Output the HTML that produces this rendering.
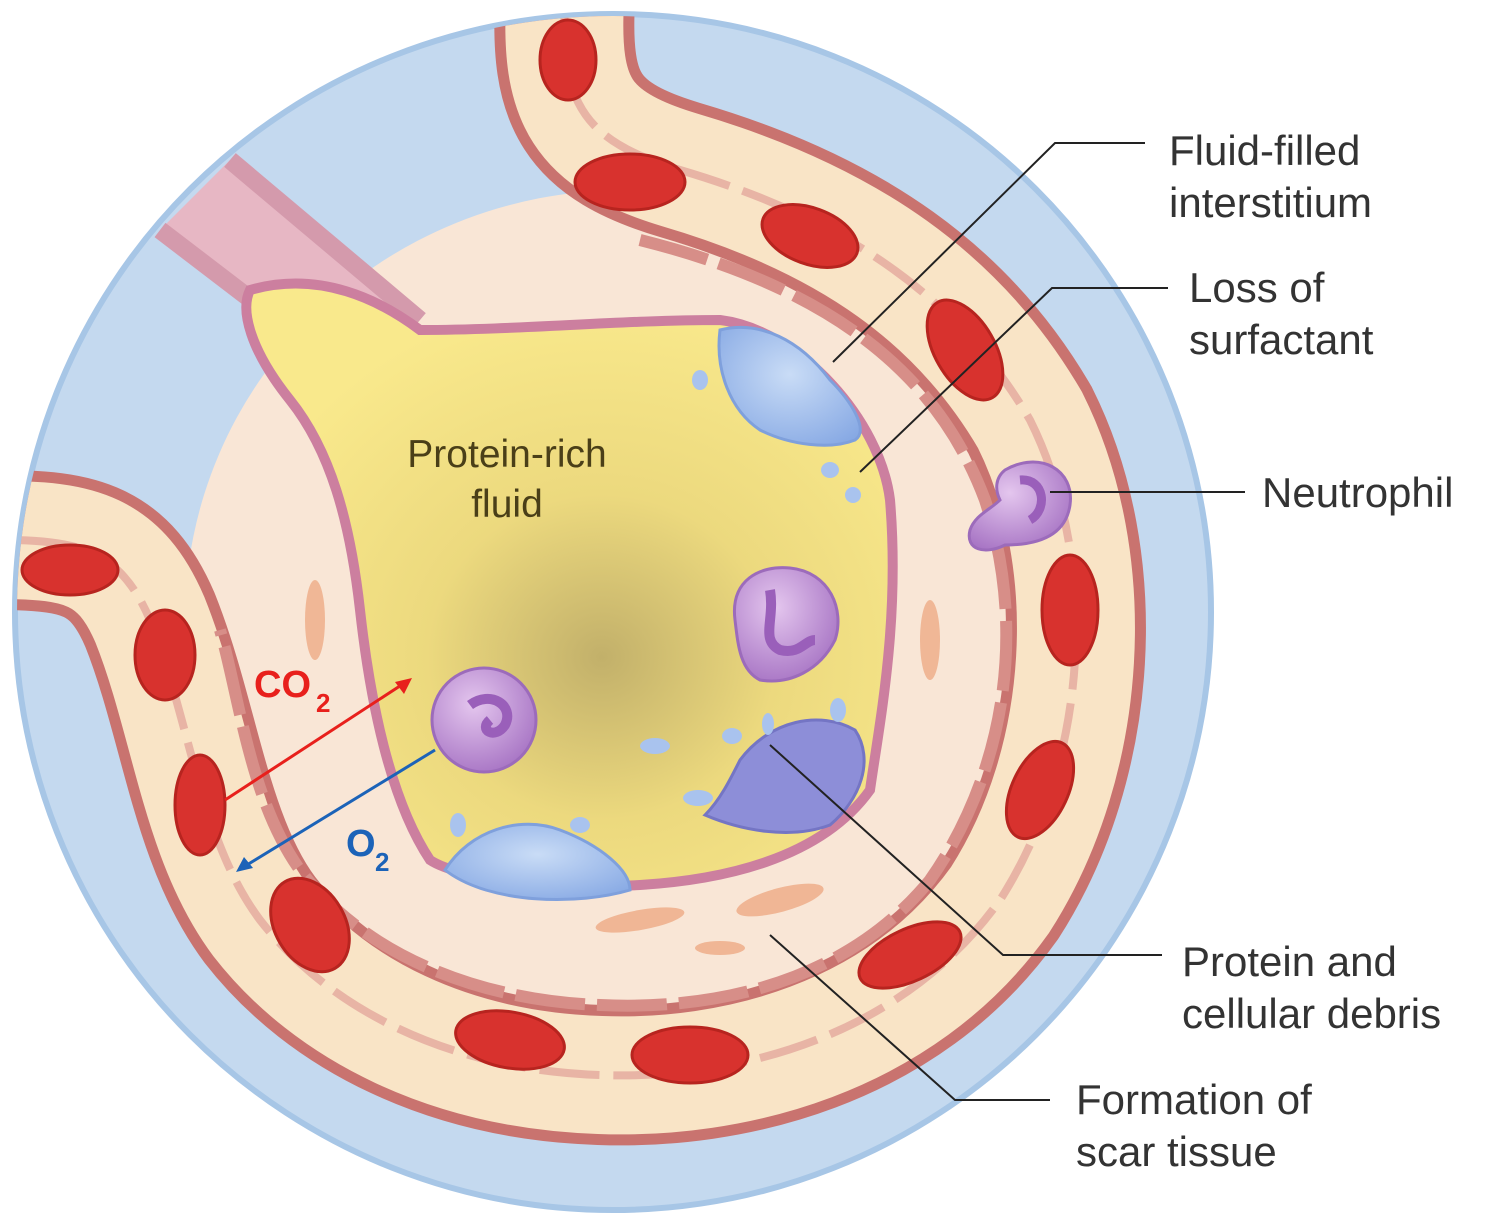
<!DOCTYPE html>
<html><head><meta charset="utf-8"><style>
html,body{margin:0;padding:0;background:#fff}
svg{display:block}
text{font-family:"Liberation Sans",sans-serif}
</style></head><body>
<svg width="1500" height="1223" viewBox="0 0 1500 1223" xmlns="http://www.w3.org/2000/svg">
<defs>
<radialGradient id="fl" cx="0.55" cy="0.62" r="0.6">
<stop offset="0" stop-color="#c2b06a"/><stop offset="0.45" stop-color="#ecd97e"/><stop offset="1" stop-color="#f9e98c"/>
</radialGradient>
<radialGradient id="pu" cx="0.4" cy="0.35" r="0.7">
<stop offset="0" stop-color="#e4c6ee"/><stop offset="1" stop-color="#a774c4"/>
</radialGradient>
<radialGradient id="bl" cx="0.5" cy="0.4" r="0.7">
<stop offset="0" stop-color="#c9dcf6"/><stop offset="1" stop-color="#87a9e4"/>
</radialGradient>
<clipPath id="cc"><circle cx="613" cy="612" r="596"/></clipPath>
</defs>
<circle cx="613" cy="612" r="598" fill="#c4d9ef" stroke="#a7c6e6" stroke-width="6"/>
<g clip-path="url(#cc)">
<ellipse cx="625" cy="620" rx="440" ry="430" fill="#f9e6d6"/>
<path d="M160 230 L230 160 L420 320 L330 360 Z" fill="#e7b7c4"/>
<path d="M160 230 L330 360" stroke="#d49aac" stroke-width="18" fill="none"/>
<path d="M230 160 L420 320" stroke="#d49aac" stroke-width="18" fill="none"/>
<g fill="none">
<path d="M565 0 C560 100 580 140 680 170 C850 220 960 300 1030 420 C1100 560 1090 760 1000 900 C900 1040 730 1080 600 1075 C450 1070 330 1010 260 920 C200 840 190 720 150 620 C120 550 80 540 0 540" stroke="#c9736f" stroke-width="140"/>
<path d="M565 0 C560 100 580 140 680 170 C850 220 960 300 1030 420 C1100 560 1090 760 1000 900 C900 1040 730 1080 600 1075 C450 1070 330 1010 260 920 C200 840 190 720 150 620 C120 550 80 540 0 540" stroke="#f9e4c6" stroke-width="118"/>
<path d="M565 0 C560 100 580 140 680 170 C850 220 960 300 1030 420 C1100 560 1090 760 1000 900 C900 1040 730 1080 600 1075 C450 1070 330 1010 260 920 C200 840 190 720 150 620 C120 550 80 540 0 540" stroke="#dc9490" stroke-width="8" stroke-dasharray="60 14" opacity="0.6"/>
<path d="M640 240 C840 290 940 380 985 500 C1030 640 1000 780 930 880 C840 990 700 1010 600 1005 C470 1000 360 950 300 870 C250 800 240 700 220 630" stroke="#d78e88" stroke-width="12" stroke-dasharray="70 12"/>
</g>
<g fill="#d8322e" stroke="#b7241f" stroke-width="3">
<ellipse cx="568" cy="60" rx="28" ry="40"/>
<ellipse cx="630" cy="182" rx="55" ry="28"/>
<ellipse cx="810" cy="236" rx="50" ry="28" transform="rotate(20 810 236)"/>
<ellipse cx="965" cy="350" rx="30" ry="55" transform="rotate(-30 965 350)"/>
<ellipse cx="1070" cy="610" rx="28" ry="55"/>
<ellipse cx="1040" cy="790" rx="28" ry="52" transform="rotate(25 1040 790)"/>
<ellipse cx="910" cy="955" rx="55" ry="26" transform="rotate(-25 910 955)"/>
<ellipse cx="690" cy="1055" rx="58" ry="28"/>
<ellipse cx="510" cy="1040" rx="55" ry="28" transform="rotate(10 510 1040)"/>
<ellipse cx="310" cy="925" rx="35" ry="50" transform="rotate(-30 310 925)"/>
<ellipse cx="200" cy="805" rx="25" ry="50"/>
<ellipse cx="165" cy="655" rx="30" ry="45"/>
<ellipse cx="70" cy="570" rx="48" ry="25"/>
</g>
<path d="M250 290 C320 270 380 300 420 330 C520 330 620 320 720 320 C800 330 880 420 890 500 C900 620 880 720 870 790 C820 860 720 880 640 885 C560 890 460 880 430 860 C390 800 370 700 360 610 C350 520 330 450 290 400 C250 350 240 310 250 290 Z" fill="url(#fl)" stroke="#cc7f9f" stroke-width="10"/>
<path d="M720 330 C760 320 800 340 830 380 C850 400 870 430 855 440 C830 450 790 445 760 430 C730 410 715 370 720 330 Z" fill="url(#bl)" stroke="#7fa0dc" stroke-width="3"/>
<path d="M445 870 C470 830 520 815 560 830 C600 845 630 870 630 890 C580 905 490 905 445 870 Z" fill="url(#bl)" stroke="#7fa0dc" stroke-width="3"/>
<path d="M740 760 C770 720 820 710 855 730 C875 760 860 800 830 825 C790 840 740 830 705 815 C720 800 730 780 740 760 Z" fill="#8d8ed8" stroke="#7475c4" stroke-width="3"/>
<g fill="#a9c3ee"><ellipse cx="700" cy="380" rx="8" ry="10"/><ellipse cx="655" cy="746" rx="15" ry="8"/><ellipse cx="698" cy="798" rx="15" ry="8"/><ellipse cx="580" cy="825" rx="10" ry="8"/><ellipse cx="458" cy="825" rx="8" ry="12"/><ellipse cx="830" cy="470" rx="9" ry="8"/><ellipse cx="853" cy="495" rx="8" ry="8"/><ellipse cx="732" cy="736" rx="10" ry="8"/><ellipse cx="768" cy="724" rx="6" ry="11"/><ellipse cx="838" cy="710" rx="8" ry="12"/></g>
<circle cx="484" cy="720" r="52" fill="url(#pu)" stroke="#9c6bbb" stroke-width="3"/>
<path d="M470 705 C490 690 515 705 505 725 C495 740 478 730 490 720" fill="none" stroke="#9a5fba" stroke-width="10"/>
<path d="M735 620 C730 580 760 565 790 568 C830 572 845 610 835 640 C820 670 790 685 760 680 C740 670 738 645 735 620 Z" fill="url(#pu)" stroke="#9c6bbb" stroke-width="3"/>
<path d="M770 590 C775 620 760 640 780 650 C800 655 805 640 815 640" fill="none" stroke="#9a5fba" stroke-width="10"/>
<path d="M1005 470 C1040 450 1075 470 1070 505 C1065 540 1030 545 1005 545 C985 555 965 550 970 530 C975 515 990 510 1000 500 C995 490 995 478 1005 470 Z" fill="url(#pu)" stroke="#9c6bbb" stroke-width="3"/>
<path d="M1020 480 C1045 478 1048 510 1030 520" fill="none" stroke="#9a5fba" stroke-width="9"/>
<g fill="#eeab86" opacity="0.8">
<ellipse cx="640" cy="920" rx="45" ry="10" transform="rotate(-10 640 920)"/>
<ellipse cx="780" cy="900" rx="45" ry="12" transform="rotate(-15 780 900)"/>
<ellipse cx="930" cy="640" rx="10" ry="40"/>
<ellipse cx="315" cy="620" rx="10" ry="40"/>
<ellipse cx="720" cy="948" rx="25" ry="7"/>
</g>
</g>
<line x1="225" y1="800" x2="406" y2="682" stroke="#e8201c" stroke-width="3"/>
<path d="M412 678 L395 682 L404 694 Z" fill="#e8201c"/>
<line x1="435" y1="750" x2="242" y2="868" stroke="#1c63b8" stroke-width="3"/>
<path d="M236 872 L253 868 L244 857 Z" fill="#1c63b8"/>
<text x="254" y="697" font-size="38" font-weight="bold" fill="#e8201c">CO</text>
<text x="316" y="712" font-size="26" font-weight="bold" fill="#e8201c">2</text>
<text x="346" y="856" font-size="38" font-weight="bold" fill="#1c63b8">O</text>
<text x="375" y="871" font-size="26" font-weight="bold" fill="#1c63b8">2</text>
<text x="507" y="467" font-size="39" fill="#4a3f18" text-anchor="middle">Protein-rich</text>
<text x="507" y="517" font-size="39" fill="#4a3f18" text-anchor="middle">fluid</text>
<g fill="none" stroke="#222" stroke-width="2">
<polyline points="1145,143 1055,143 833,362"/>
<polyline points="1168,288 1052,288 860,472"/>
<polyline points="1245,492 1050,492"/>
<polyline points="1162,955 1003,955 770,745"/>
<polyline points="1050,1100 955,1100 770,935"/>
</g>
<g font-size="42" fill="#333">
<text x="1169" y="165">Fluid-filled</text>
<text x="1169" y="217">interstitium</text>
<text x="1189" y="302">Loss of</text>
<text x="1189" y="354">surfactant</text>
<text x="1262" y="507">Neutrophil</text>
<text x="1182" y="976">Protein and</text>
<text x="1182" y="1028">cellular debris</text>
<text x="1076" y="1114">Formation of</text>
<text x="1076" y="1166">scar tissue</text>
</g>
</svg>
</body></html>
